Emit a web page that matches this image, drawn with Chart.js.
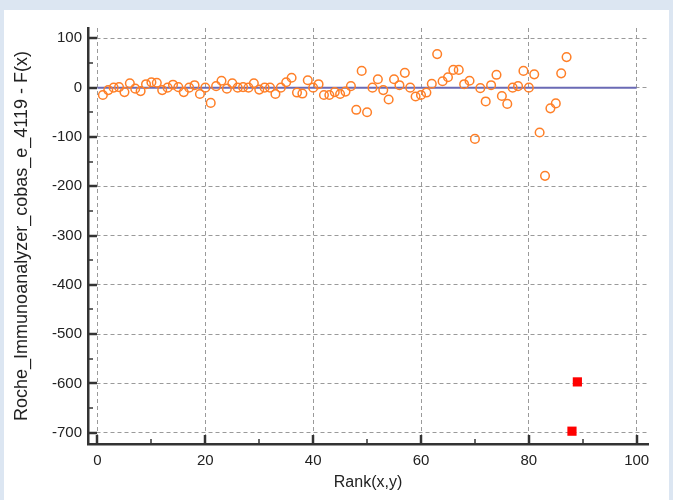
<!DOCTYPE html>
<html>
<head>
<meta charset="utf-8">
<script src="https://cdn.jsdelivr.net/npm/chart.js@4.4.1/dist/chart.umd.min.js"></script>
<style>
  html, body { margin: 0; padding: 0; background: #dce6f2; }
  #wrap { position: absolute; left: 4px; top: 10px; width: 665px; height: 490px; background: #fff; }
</style>
</head>
<body>
<div id="wrap"><canvas id="chart" width="665" height="490"></canvas></div>
<script>
// rank of each pair and its difference from the fitted F(x)
const ranks = [1, 2, 3, 4, 5, 6, 7, 8, 9, 10, 11, 12, 13, 14, 15, 16, 17, 18, 19, 20,
  21, 22, 23, 24, 25, 26, 27, 28, 29, 30, 31, 32, 33, 34, 35, 36, 37, 38, 39, 40,
  41, 42, 43, 44, 45, 46, 47, 48, 49, 50, 51, 52, 53, 54, 55, 56, 57, 58, 59, 60,
  61, 62, 63, 64, 65, 66, 67, 68, 69, 70, 71, 72, 73, 74, 75, 76, 77, 78, 79, 80,
  81, 82, 83, 84, 85, 86, 87];
const diffs = [-15, -5, 0, 1, -9, 9, -2, -7, 7, 11, 10, -5, 0, 6, 1, -9, 0, 5, -13, 0,
  -31, 3, 14, -2, 9, 0, 1, 0, 9, -4, 0, 0, -13, 0, 11, 20, -10, -12, 15, 0,
  7, -15, -15, -9, -13, -8, 3, -45, 34, -50, 0, 17, -5, -24, 17, 5, 30, 0, -18, -15,
  -10, 8, 68, 13, 21, 36, 36, 7, 14, -104, -1, -28, 5, 26, -17, -33, 0, 3, 34, 0,
  27, -91, -179, -42, -32, 29, 62];

// the two outlying pairs (red squares)
const outlierRanks = [88, 89];
const outlierDiffs = [-697, -597];

// F(x) reference line
const lineX = [0, 100];
const lineY = [0, 0];

const xTicks = [0, 20, 40, 60, 80, 100];
const xMinor = [10, 30, 50, 70, 90];
const yTicks = [100, 0, -100, -200, -300, -400, -500, -600, -700];
const yMinor = [50, -50, -150, -250, -350, -450, -550, -650];

const pts = (xs, ys) => xs.map((x, i) => ({x: x, y: ys[i]}));

// inward tick marks like the original plot
const innerTicks = {
  id: 'innerTicks',
  afterDraw(chart) {
    const {ctx, chartArea: a, scales: {x, y}} = chart;
    ctx.save();
    ctx.strokeStyle = '#333';
    const seg = (x1, y1, x2, y2, w) => {
      ctx.lineWidth = w;
      ctx.beginPath();
      ctx.moveTo(x1, y1);
      ctx.lineTo(x2, y2);
      ctx.stroke();
    };
    xTicks.forEach(v => { const p = Math.round(x.getPixelForValue(v)); seg(p, a.bottom, p, a.bottom - 9, 2.5); });
    xMinor.forEach(v => { const p = Math.round(x.getPixelForValue(v)); seg(p, a.bottom, p, a.bottom - 5, 1.5); });
    yTicks.forEach(v => { const p = Math.round(y.getPixelForValue(v)); seg(a.left, p, a.left + 9, p, 2.5); });
    yMinor.forEach(v => { const p = Math.round(y.getPixelForValue(v)); seg(a.left, p, a.left + 5, p, 1.5); });
    ctx.restore();
  }
};

const family = "'Liberation Sans', Arial, sans-serif";

new Chart(document.getElementById('chart'), {
  type: 'scatter',
  data: {
    datasets: [
      {
        data: pts(ranks, diffs),
        pointStyle: 'circle',
        pointRadius: 4.3,
        borderWidth: 1.5,
        borderColor: '#ff7f27',
        backgroundColor: 'rgba(0,0,0,0)'
      },
      {
        data: pts(outlierRanks, outlierDiffs),
        pointStyle: 'rect',
        pointRadius: 6.5,
        borderWidth: 0,
        backgroundColor: '#ff0000'
      },
      {
        type: 'line',
        data: pts(lineX, lineY),
        borderColor: '#6a6ab5',
        borderWidth: 2,
        pointRadius: 0,
        order: 2
      }
    ]
  },
  options: {
    responsive: false,
    animation: false,
    layout: {padding: {top: 18, right: 21, left: 0, bottom: 0}},
    plugins: {legend: {display: false}, tooltip: {enabled: false}},
    scales: {
      x: {
        type: 'linear',
        min: -1.76,
        max: 102.1,
        afterBuildTicks: s => { s.ticks = xTicks.map(v => ({value: v})); },
        afterFit: s => { s.height = 56; },
        grid: {color: '#9a9a9a', lineWidth: 1, drawTicks: false},
        border: {display: true, color: '#333', width: 2.5, dash: [4, 3]},
        ticks: {color: '#222', font: {family: family, size: 15}, padding: 8, maxRotation: 0},
        title: {display: true, text: 'Rank(x,y)', color: '#222', font: {family: family, size: 16}, padding: {top: 0, bottom: 8}}
      },
      y: {
        type: 'linear',
        min: -723,
        max: 121,
        afterBuildTicks: s => { s.ticks = yTicks.slice().reverse().map(v => ({value: v})); },
        afterFit: s => { s.width = 84; },
        grid: {color: '#9a9a9a', lineWidth: 1, drawTicks: false},
        border: {display: true, color: '#333', width: 2.5, dash: [4, 3]},
        ticks: {color: '#222', font: {family: family, size: 15}, padding: 6},
        title: {display: true, text: 'Roche_Immunoanalyzer_cobas_e_4119 - F(x)', color: '#222', font: {family: family, size: 18}, padding: {top: 7, bottom: 0}}
      }
    }
  },
  plugins: [innerTicks]
});
</script>
</body>
</html>
